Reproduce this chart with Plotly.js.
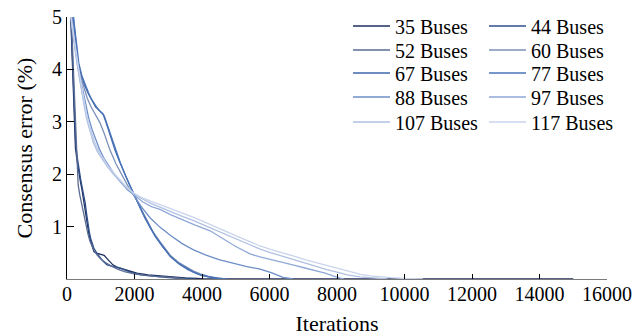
<!DOCTYPE html>
<html>
<head>
<meta charset="utf-8">
<script src="https://cdn.plot.ly/plotly-3.0.1.min.js"></script>
<style>html,body{margin:0;padding:0;background:#fff;}#chart{width:644px;height:336px;}</style>
</head>
<body>
<div id="chart"></div>
<script>
// Series names and colours
var seriesNames = ['35 Buses','44 Buses','52 Buses','60 Buses','67 Buses','77 Buses','88 Buses','97 Buses','107 Buses','117 Buses'];
var seriesColors = ['#1f2f5e','#2e4f8c','#5a6d94','#7d91b8','#3e66ab','#4a74b9','#6d8ec8','#8fa8d8','#b0c0e2','#c9d4ec'];

// Iterations (x) and consensus error % (y) per series
var x35 = [0,100,150,190,220,250,300,350,400,440,480,520,560,600,650,700,760,800,900,1000,1100,1200,1360,1500,1780,2070,2400,2750,3100,3500,4000,15000];
var y35 = [7,5.2,4.4,3.7,3.0,2.5,2.25,2.0,1.85,1.72,1.55,1.4,1.2,1.0,0.85,0.72,0.6,0.52,0.49,0.47,0.45,0.38,0.27,0.22,0.17,0.11,0.08,0.06,0.04,0.02,0.005,0];

var x44 = [0,110,160,200,230,260,310,360,410,450,500,540,580,620,660,700,750,800,880,960,1050,1185,1350,1570,1800,1950,2200,2660,3000,3400,3800];
var y44 = [7,5.1,4.3,3.6,3.0,2.55,2.3,2.05,1.88,1.75,1.6,1.45,1.25,1.05,0.9,0.78,0.66,0.58,0.5,0.42,0.35,0.27,0.24,0.21,0.15,0.11,0.08,0.04,0.025,0.01,0];

var x52 = [0,120,180,220,240,260,280,300,330,380,440,500,560,620,680,740,820,900,1000,1150,1300,1500,1700,2000,2300,2700,3100,3500];
var y52 = [7,5.0,4.2,3.6,3.3,2.9,2.5,2.1,1.8,1.6,1.4,1.2,1.02,0.86,0.72,0.62,0.52,0.45,0.38,0.31,0.25,0.19,0.14,0.1,0.07,0.045,0.03,0];

var x60 = [0,100,180,260,350,435,520,600,700,800,900,978,1100,1274,1450,1650,1850,2000,2200,2400,2550,2750,3050,3300,3550,3750,3950,4200,4450,4700];
var y60 = [7,5.3,4.8,4.4,4.05,3.8,3.6,3.45,3.3,3.18,3.08,2.98,2.78,2.46,2.2,1.95,1.72,1.58,1.33,1.08,0.9,0.72,0.46,0.32,0.22,0.15,0.1,0.05,0.02,0];

var x67 = [0,120,200,270,326,420,520,620,700,770,850,950,1067,1150,1250,1350,1422,1550,1700,1850,2000,2150,2300,2450,2600,2800,3050,3300,3550,3750,3950,4200,4450,4650];
var y67 = [7,5.4,4.9,4.45,4.13,3.9,3.7,3.55,3.45,3.36,3.28,3.22,3.15,3.0,2.8,2.6,2.46,2.25,2.02,1.8,1.6,1.38,1.18,1.0,0.83,0.65,0.44,0.3,0.2,0.13,0.08,0.04,0.015,0];

var x77 = [0,130,210,290,350,440,540,640,720,800,880,980,1100,1180,1280,1380,1460,1580,1730,1880,2030,2180,2330,2480,2630,2830,3080,3330,3580,3780,3980,4230,4480,4750];
var y77 = [7,5.4,4.9,4.45,4.12,3.88,3.7,3.55,3.44,3.35,3.28,3.2,3.12,2.97,2.78,2.58,2.44,2.22,1.98,1.76,1.56,1.34,1.14,0.96,0.8,0.62,0.42,0.28,0.18,0.12,0.07,0.035,0.01,0];

var x88 = [0,90,160,240,320,400,480,560,640,740,840,960,1100,1250,1400,1600,1800,1955,2200,2460,2750,3050,3400,3733,4100,4500,4900,5300,5720,6050,6400,6700];
var y88 = [7,5.4,4.8,4.4,4.1,3.82,3.55,3.3,3.08,2.86,2.67,2.48,2.3,2.14,2.0,1.84,1.7,1.62,1.38,1.17,0.99,0.84,0.68,0.56,0.46,0.37,0.3,0.24,0.19,0.12,0.03,0];

var x97 = [0,80,150,230,300,380,460,540,620,720,820,950,1100,1250,1400,1600,1800,2000,2250,2500,2755,3100,3450,3800,4240,4600,5000,5420,5720,6050,6400,6750,7050,7400,7650,7880,8200];
var y97 = [7,5.4,4.8,4.4,4.1,3.8,3.5,3.25,3.0,2.78,2.6,2.42,2.26,2.12,1.99,1.84,1.71,1.6,1.47,1.38,1.33,1.22,1.12,1.03,0.92,0.78,0.62,0.48,0.42,0.37,0.32,0.26,0.21,0.16,0.11,0.06,0];

var x107 = [0,70,130,210,290,360,435,510,584,680,770,900,1050,1200,1363,1550,1750,1955,2200,2500,2755,3100,3400,3733,4100,4400,4740,5100,5420,5720,6050,6400,6750,7050,7400,7700,8000,8300,8680,9000,9500];
var y107 = [7,5.5,4.9,4.5,4.2,3.9,3.58,3.3,3.05,2.82,2.62,2.43,2.28,2.14,2.01,1.88,1.75,1.64,1.54,1.44,1.37,1.28,1.2,1.12,1.02,0.93,0.84,0.74,0.65,0.57,0.5,0.43,0.36,0.3,0.24,0.18,0.13,0.08,0.04,0.02,0];

var x117 = [0,60,120,200,280,350,435,510,584,680,770,900,1050,1200,1363,1550,1750,1955,2200,2500,2755,3100,3400,3733,4100,4400,4740,5100,5420,5720,6050,6400,6750,7050,7400,7700,8000,8385,8700,9000,9270,9600,10000,10550];
var y117 = [7,5.6,5.0,4.6,4.3,4.0,3.65,3.38,3.12,2.88,2.68,2.48,2.32,2.17,2.04,1.9,1.77,1.65,1.56,1.48,1.42,1.34,1.26,1.18,1.08,0.99,0.9,0.8,0.71,0.63,0.56,0.5,0.43,0.37,0.31,0.25,0.2,0.14,0.09,0.06,0.04,0.025,0.01,0];

var xTicks = [0,2000,4000,6000,8000,10000,12000,14000,16000];
var yTicks = [1,2,3,4,5];

var xs = [x35,x44,x52,x60,x67,x77,x88,x97,x107,x117];
var ys = [y35,y44,y52,y60,y67,y77,y88,y97,y107,y117];
var legendIds = ['legend','legend','legend2','legend2','legend3','legend3','legend4','legend4','legend5','legend5'];

var FONT = 'Liberation Serif';
var traces = seriesNames.map(function(n, i){
  return {
    x: xs[i], y: ys[i], name: n, type: 'scatter', mode: 'lines',
    line: {color: seriesColors[i], width: 1.3},
    legend: legendIds[i], hoverinfo: 'skip'
  };
});

function mkLegend(y){
  return {
    x: 0.5204, xanchor: 'left', y: y, yanchor: 'top',
    orientation: 'h', entrywidth: 84, itemwidth: 37,
    bgcolor: 'rgba(0,0,0,0)', borderwidth: 0,
    font: {family: FONT, size: 20, color: '#000'}
  };
}

var layout = {
  width: 644, height: 336,
  margin: {l: 67, r: 37, t: 17, b: 57, autoexpand: false},
  paper_bgcolor: '#fff', plot_bgcolor: '#fff',
  font: {family: FONT, size: 20, color: '#000'},
  showlegend: true,
  legend: mkLegend(1.0401),
  legend2: mkLegend(0.9485),
  legend3: mkLegend(0.8607),
  legend4: mkLegend(0.7691),
  legend5: mkLegend(0.6737),
  xaxis: {
    range: [0, 16000], tickvals: xTicks, ticktext: xTicks.map(String),
    showgrid: false, zeroline: false, showline: true, linecolor: '#7a7a7a', linewidth: 1,
    ticks: 'inside', ticklen: 5, tickcolor: '#000', tickwidth: 1, ticklabelstandoff: -3,
    tickfont: {family: FONT, size: 20, color: '#000'},
    title: {text: 'Iterations', font: {family: FONT, size: 22, color: '#000'}, standoff: 13}
  },
  yaxis: {
    range: [0, 5], tickvals: yTicks, ticktext: yTicks.map(String),
    showgrid: false, zeroline: false, showline: true, linecolor: '#000', linewidth: 1,
    ticks: 'inside', ticklen: 7, tickcolor: '#000', tickwidth: 1,
    tickfont: {family: FONT, size: 20, color: '#000'},
    title: {text: 'Consensus error (%)', font: {family: FONT, size: 22, color: '#000'}, standoff: 13}
  }
};

Plotly.newPlot('chart', traces, layout, {staticPlot: true, displayModeBar: false});
</script>
</body>
</html>
